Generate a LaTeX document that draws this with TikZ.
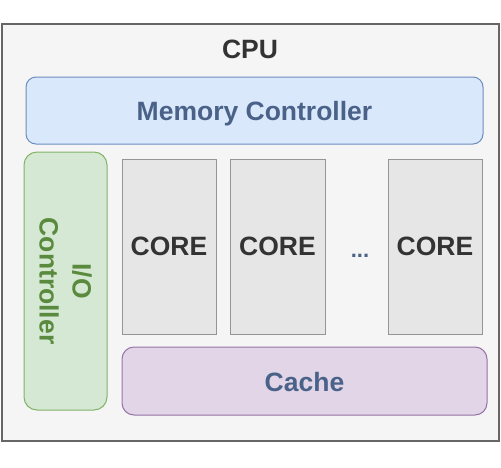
\documentclass[tikz,border=0pt]{standalone}
\usepackage{fontspec}
\setmainfont{Liberation Sans}
\definecolor{outerdraw}{HTML}{666666}
\definecolor{outerfill}{HTML}{F5F5F5}
\definecolor{memfill}{HTML}{DAE8FC}
\definecolor{memdraw}{HTML}{6C8EBF}
\definecolor{iofill}{HTML}{D5E8D4}
\definecolor{iodraw}{HTML}{82B366}
\definecolor{corefill}{HTML}{E6E6E6}
\definecolor{coredraw}{HTML}{959595}
\definecolor{cachefill}{HTML}{E1D5E7}
\definecolor{cachedraw}{HTML}{9673A6}
\definecolor{bluetext}{HTML}{4A6288}
\definecolor{greentext}{HTML}{5A8A3E}
\definecolor{darktext}{HTML}{333333}
\tikzset{
  box/.style={rectangle, inner sep=0pt, line width=1pt},
  lbl/.style={font=\bfseries\fontsize{26.5}{33}\selectfont, inner sep=0pt},
}
\begin{document}
\begin{tikzpicture}[x=1pt,y=-1pt]
\useasboundingbox (0,0) rectangle (501,467);
\node[box, draw=outerdraw, fill=outerfill, line width=2pt, minimum width=497pt, minimum height=417pt] (cpu) at (250.5,232.5) {};
\node[lbl, text=darktext] (cpulbl) at (250,49) {CPU};
\node[box, rounded corners=10pt, draw=memdraw, fill=memfill, minimum width=457pt, minimum height=67pt] (mem) at (254.5,110.5) {};
\node[lbl, text=bluetext, anchor=base] (memlbl) at (254.5,120.5) {Memory Controller};
\node[box, rounded corners=13pt, draw=iodraw, fill=iofill, minimum width=83pt, minimum height=258pt] (io) at (65.5,281) {};
\node[lbl, text=greentext, rotate=-90, align=center] (iolbl) at (io.center) {I/O\\Controller};
\node[box, draw=coredraw, fill=corefill, minimum width=94pt, minimum height=175pt, lbl, text=darktext] (core1) at (169,246.5) {CORE};
\node[box, draw=coredraw, fill=corefill, minimum width=95pt, minimum height=175pt, lbl, text=darktext] (core2) at (277.5,246.5) {CORE};
\node[box, draw=coredraw, fill=corefill, minimum width=94pt, minimum height=175pt, lbl, text=darktext] (core3) at (435,246.5) {CORE};
\node[lbl, text=bluetext, anchor=base, font=\bfseries\fontsize{22}{26}\selectfont] (dots) at (360,257) {...};
\node[box, rounded corners=12pt, draw=cachedraw, fill=cachefill, minimum width=365pt, minimum height=68pt] (cache) at (304.5,381) {};
\node[lbl, text=bluetext, anchor=base] (cachelbl) at (304.5,391) {Cache};
\end{tikzpicture}
\end{document}
